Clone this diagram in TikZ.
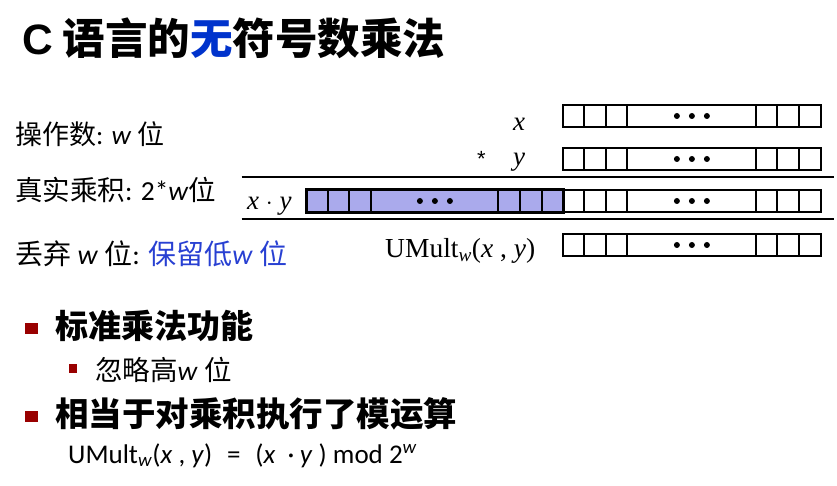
\documentclass[tikz,border=0pt]{standalone}
\usepackage{fontspec}
\setmainfont{Carlito}
\newfontfamily\zhfont{Noto Sans CJK SC}
\newfontfamily\tmsfont{Liberation Serif}
\newfontfamily\arlfont{Liberation Sans}
\newcommand\zh[1]{{\zhfont #1}}
\definecolor{titleblue}{RGB}{0,51,204}
\definecolor{lblue}{RGB}{40,64,210}
\definecolor{purp}{RGB}{170,170,236}
\definecolor{bred}{RGB}{153,0,0}
\tikzset{
  cellrow/.style={draw, line width=1.8pt, minimum width=258pt, minimum height=21.5pt, inner sep=0pt, anchor=west},
  prow/.style={cellrow, fill=purp, minimum width=256pt},
  div/.style={line width=1.8pt},
  rule/.style={line width=2pt},
  lbl/.style={anchor=base west, inner sep=0pt},
  bsq/.style={fill=bred, draw=none, inner sep=0pt, anchor=north west}
}
\begin{document}
\begin{tikzpicture}[x=1pt,y=-1pt]
\useasboundingbox (0,0) rectangle (837,486);
% title
\node[lbl] (title) at (22,55) {\fontsize{42.5}{50}\selectfont\bfseries{\arlfont C}\ {\zhfont 语言的\textcolor{titleblue}{无}符号数乘法}};
% left labels
\node[lbl] (l1) at (15,145) {\fontsize{27}{32}\selectfont\zh{操作数}: \textit{w} \zh{位}};
\node[lbl] (l2) at (15,201) {\fontsize{27.5}{32}\selectfont\zh{真实乘积}: 2*\textit{w}\zh{位}};
\node[lbl] (l3) at (15,265) {\fontsize{28}{32}\selectfont\zh{丢弃} \textit{w} \zh{位}: \textcolor{lblue}{\zh{保留低}\textit{w} \zh{位}}};
% rows
\node[cellrow] (r1) at (562,116) {};
\node[cellrow] (r2) at (562,159) {};
\node[cellrow] (r3) at (562,201) {};
\node[cellrow] (r4) at (562,245) {};
\node[prow] (p) at (306,201) {};
\foreach \r in {r1,r2,r3,r4}{
  \foreach \dx in {22,44,65,194,215,237}
    \draw[div] ([xshift=\dx pt]\r.north west) -- ([xshift=\dx pt]\r.south west);
  \foreach \d in {-15,0,15}
    \fill ([xshift=\d pt]\r.center) circle (3pt);
}
\foreach \dx in {22,43,65,192,214,236}
  \draw[div] ([xshift=\dx pt]p.north west) -- ([xshift=\dx pt]p.south west);
\foreach \d in {-15,0,15}
  \fill ([xshift=\d pt]p.center) circle (3pt);
\draw[line width=1.8pt] (p.north west) rectangle (p.south east);
% rules
\coordinate (a1) at (241.7,177.3);
\coordinate (b1) at (834,177.3);
\coordinate (a2) at (241.7,219);
\coordinate (b2) at (834,219);
\draw[rule] (a1) -- (b1);
\draw[rule] (a2) -- (b2);
% operand labels
\node[lbl] (lx) at (513,131) {\fontsize{27}{30}\selectfont\tmsfont\itshape x};
\node[lbl] (ls) at (477,167) {\fontsize{22}{26}\selectfont\arlfont *};
\node[lbl] (ly) at (513,166) {\fontsize{27}{30}\selectfont\tmsfont\itshape y};
\node[lbl] (lxy) at (247,210) {\fontsize{27}{30}\selectfont\tmsfont\textit{x} $\cdot$ \textit{y}};
\node[lbl] (lum) at (385,258) {\fontsize{27.5}{30}\selectfont\tmsfont UMult\textsubscript{\textit{w}}(\textit{x} , \textit{y})};
% bullets
\node[bsq, minimum width=13pt, minimum height=11pt] (s1) at (25,323) {};
\node[lbl] (t1) at (55,338) {\fontsize{33}{40}\selectfont\bfseries\zh{标准乘法功能}};
\node[bsq, minimum width=8pt, minimum height=9pt] (s2) at (69,364) {};
\node[lbl] (t2) at (95,380) {\fontsize{27.5}{32}\selectfont\zh{忽略高}\textit{w} \zh{位}};
\node[bsq, minimum width=13pt, minimum height=11pt] (s3) at (25,411) {};
\node[lbl] (t3) at (55,426) {\fontsize{33.5}{40}\selectfont\bfseries\zh{相当于对乘积执行了模运算}};
\node[lbl] (t4) at (68,463) {\fontsize{27}{32}\selectfont UMult\textsubscript{\textit{w}}(\textit{x} , \textit{y})\hspace{0.55em}=\hspace{0.55em}(\textit{x}\hspace{0.45em}·\hspace{0.2em}\textit{y} ) mod 2\textsuperscript{\textit{w}}};
\end{tikzpicture}
\end{document}
